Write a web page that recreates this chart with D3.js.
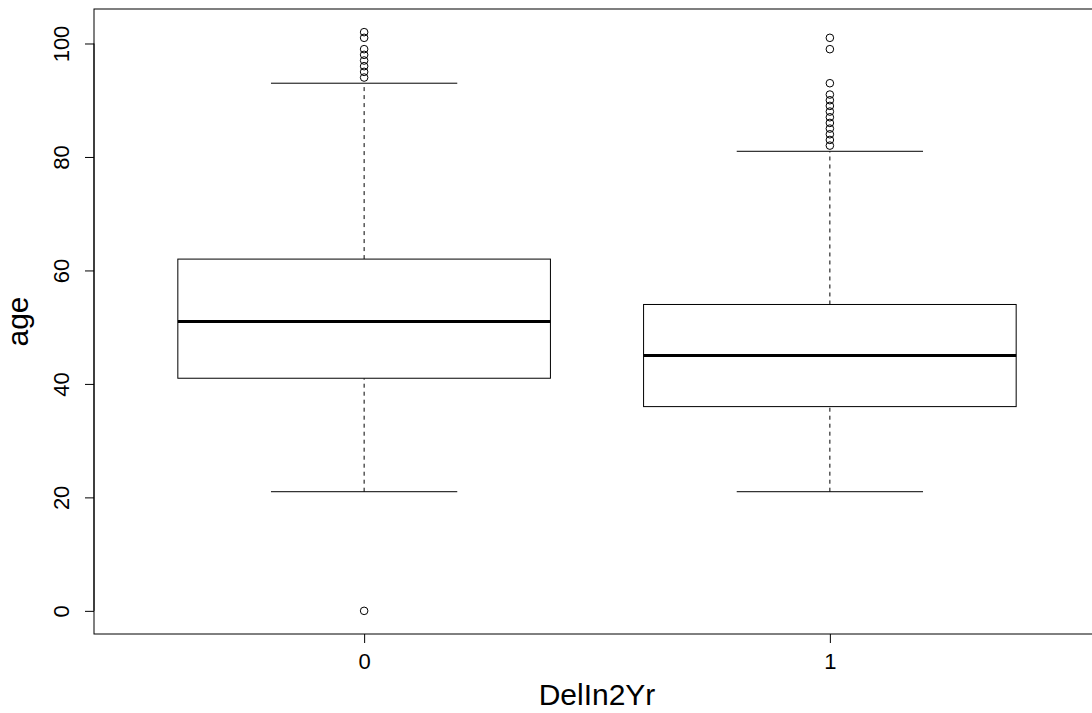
<!DOCTYPE html>
<html>
<head>
<meta charset="utf-8">
<script src="https://cdn.jsdelivr.net/npm/d3@7"></script>
<style>
  body { margin: 0; background: #fff; }
  svg { display: block; font-family: "Liberation Sans", Arial, sans-serif; }
</style>
</head>
<body>
<div id="chart"></div>
<script>
// Boxplot of age by DelIn2Yr (R base graphics look)
const groups = ["0", "1"];
const lowerWhisker = [21, 21];
const q1 = [41, 36];
const median = [51, 45];
const q3 = [62, 54];
const upperWhisker = [93, 81];
const outliers = [
  [0, 94, 95, 96, 97, 98, 99, 101, 102],
  [82, 83, 84, 85, 86, 87, 88, 89, 90, 91, 93, 99, 101]
];
const yTicks = [0, 20, 40, 60, 80, 100];

const W = 1092, H = 713;
const plot = { left: 94, top: 9, right: 1100, bottom: 634 };
const FONT = "'Liberation Sans', Arial, sans-serif";

const svg = d3.select("#chart").append("svg")
  .attr("width", W).attr("height", H);

// x: R places groups at 1..n, xlim 0.5..n+0.5 extended by 4%
const x = d3.scaleLinear().domain([0.42, 2.58]).range([plot.left, plot.right]);
const y = d3.scaleLinear().domain([-4.08, 106.08]).range([plot.bottom, plot.top]);

const boxHalf = 0.4, capHalf = 0.2;

groups.forEach((gName, i) => {
  const c = i + 1;
  const g = svg.append("g");
  // whiskers (dashed)
  [[lowerWhisker[i], q1[i]], [q3[i], upperWhisker[i]]].forEach(([a, b]) => {
    g.append("line")
      .attr("x1", x(c)).attr("x2", x(c))
      .attr("y1", y(a)).attr("y2", y(b))
      .attr("stroke", "#000").attr("stroke-width", 1)
      .attr("stroke-dasharray", "4 4");
  });
  // staples
  [lowerWhisker[i], upperWhisker[i]].forEach(v => {
    g.append("line")
      .attr("x1", x(c - capHalf)).attr("x2", x(c + capHalf))
      .attr("y1", y(v)).attr("y2", y(v))
      .attr("stroke", "#000").attr("stroke-width", 1);
  });
  // box
  g.append("rect")
    .attr("x", x(c - boxHalf)).attr("y", y(q3[i]))
    .attr("width", x(c + boxHalf) - x(c - boxHalf))
    .attr("height", y(q1[i]) - y(q3[i]))
    .attr("fill", "#fff").attr("stroke", "#000").attr("stroke-width", 1);
  // median
  g.append("line")
    .attr("x1", x(c - boxHalf)).attr("x2", x(c + boxHalf))
    .attr("y1", y(median[i])).attr("y2", y(median[i]))
    .attr("stroke", "#000").attr("stroke-width", 3);
  // outliers
  g.selectAll("circle").data(outliers[i]).join("circle")
    .attr("cx", x(c)).attr("cy", d => y(d)).attr("r", 3.8)
    .attr("fill", "none").attr("stroke", "#000").attr("stroke-width", 1);
});

// plot frame
svg.append("rect")
  .attr("x", plot.left).attr("y", plot.top)
  .attr("width", plot.right - plot.left).attr("height", plot.bottom - plot.top)
  .attr("fill", "none").attr("stroke", "#000").attr("stroke-width", 1);

// y axis
const yAxis = d3.axisLeft(y).tickValues(yTicks).tickSize(9).tickSizeOuter(0);
const ya = svg.append("g").attr("transform", `translate(${plot.left},0)`).call(yAxis)
  .attr("font-family", FONT).attr("font-size", 22);
ya.select(".domain").attr("d", `M0,${y(0)}V${y(100)}`).attr("stroke", "#000");
ya.selectAll(".tick line").attr("stroke", "#000");
ya.selectAll("text")
  .attr("fill", "#000")
  .attr("x", null).attr("dy", null)
  .attr("transform", "translate(-25,0) rotate(-90)")
  .attr("text-anchor", "middle");

// x axis
const xAxis = d3.axisBottom(x).tickValues([1, 2]).tickFormat((d, i) => groups[i])
  .tickSize(9).tickSizeOuter(0);
const xa = svg.append("g").attr("transform", `translate(0,${plot.bottom})`).call(xAxis)
  .attr("font-family", FONT).attr("font-size", 22);
xa.select(".domain").remove();
xa.selectAll(".tick line").attr("stroke", "#000");
xa.selectAll("text").attr("fill", "#000").attr("y", 35).attr("dy", null);

// axis titles
svg.append("text")
  .attr("x", x(1.5)).attr("y", 705)
  .attr("text-anchor", "middle").attr("font-size", "30px")
  .text("DelIn2Yr");
svg.append("text")
  .attr("transform", `translate(28,${(plot.top + plot.bottom) / 2}) rotate(-90)`)
  .attr("text-anchor", "middle").attr("font-size", "30px")
  .text("age");
</script>
</body>
</html>
